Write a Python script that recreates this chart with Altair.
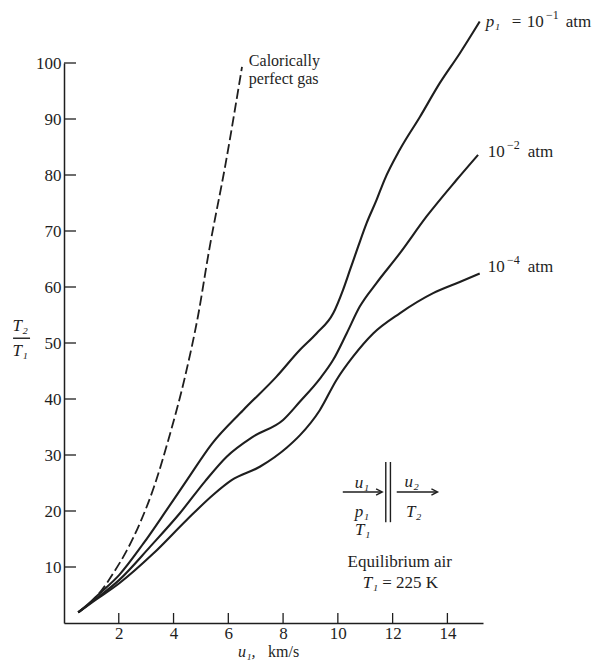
import altair as alt
import pandas as pd

# ---- data ----
cpg_u = [0.52, 1.0, 1.4, 1.8, 2.3, 2.77, 3.3, 3.81, 4.42, 4.9, 5.3, 5.9, 6.5]
cpg_t = [1.9, 3.8, 6.0, 8.9, 13.0, 17.8, 24.5, 32.7, 44.0, 55.0, 66.6, 82.0, 99.3]

p1_u = [0.52, 1.0, 1.31, 2.02, 2.9, 3.75, 4.5, 5.4, 6.54, 7.76, 8.61, 9.22, 9.83,
        10.19, 10.44, 10.74, 11.05, 11.41, 11.7, 12.26, 13.0, 13.72, 14.45, 15.18]
p1_t = [1.9, 3.9, 5.3, 8.6, 14.2, 20.2, 25.6, 32.0, 38.0, 44.0, 48.75, 51.7, 55.3,
        59.5, 63.0, 67.2, 71.4, 75.5, 79.1, 84.5, 90.4, 96.4, 101.7, 107.4]

p2_u = [0.52, 1.0, 2.02, 3.14, 4.23, 5.15, 5.94, 6.91, 8.0, 8.61, 9.34, 9.83, 10.32,
        10.8, 11.41, 12.26, 13.24, 14.33, 15.12]
p2_t = [1.9, 3.7, 7.7, 13.6, 19.6, 25.3, 29.7, 33.3, 36.25, 39.5, 43.6, 47.0, 51.7,
        56.5, 60.7, 66.0, 72.6, 79.1, 83.6]

p4_u = [0.52, 1.0, 2.02, 3.26, 4.48, 5.45, 6.12, 7.15, 8.13, 8.61, 9.34, 9.95, 10.56,
        11.29, 12.26, 13.48, 14.45, 15.18]
p4_t = [1.9, 3.6, 7.1, 12.4, 18.4, 22.9, 25.5, 27.9, 31.3, 33.5, 38.0, 43.4, 47.6,
        51.7, 55.3, 58.9, 60.9, 62.4]

x_ticks = [2, 4, 6, 8, 10, 12, 14]
y_ticks = [10, 20, 30, 40, 50, 60, 70, 80, 90, 100]

FONT = "Liberation Serif"
INK = "#1e1e1e"
FS = 17

xs = alt.Scale(domain=[0, 15.3], nice=False, zero=False)
ys = alt.Scale(domain=[0, 100], nice=False, zero=False)

x_axis = alt.Axis(values=x_ticks, ticks=False, grid=False, title=None,
                  labelFont=FONT, labelFontSize=FS, labelColor=INK, labelPadding=2,
                  domainColor=INK, domainWidth=1.5, labelFlush=False)
y_axis = alt.Axis(values=y_ticks, ticks=False, grid=False, title=None,
                  labelFont=FONT, labelFontSize=FS, labelColor=INK, labelPadding=3,
                  domainColor=INK, domainWidth=1.5, labelFlush=False)


def X(f="u"):
    return alt.X(f"{f}:Q", scale=xs, axis=x_axis)


def Y(f="t"):
    return alt.Y(f"{f}:Q", scale=ys, axis=y_axis)


solid = pd.concat([
    pd.DataFrame({"u": p1_u, "t": p1_t, "s": "p1"}),
    pd.DataFrame({"u": p2_u, "t": p2_t, "s": "p2"}),
    pd.DataFrame({"u": p4_u, "t": p4_t, "s": "p4"}),
])
cpg = pd.DataFrame({"u": cpg_u, "t": cpg_t})

lines = alt.Chart(solid).mark_line(interpolate="monotone", color=INK, strokeWidth=2.1,
                                   clip=False).encode(x=X(), y=Y(), detail="s:N")
dashed = alt.Chart(cpg).mark_line(interpolate="monotone", color=INK, strokeWidth=1.8,
                                  strokeDash=[10, 4], clip=False).encode(x=X(), y=Y())

# inward ticks
ytk = alt.Chart(pd.DataFrame({"v": y_ticks})).mark_rule(color=INK, strokeWidth=1.3).encode(
    y=Y("v"), x=alt.value(0), x2=alt.value(12))
xtk = alt.Chart(pd.DataFrame({"v": x_ticks})).mark_rule(color=INK, strokeWidth=1.3).encode(
    x=X("v"), y=alt.value(560), y2=alt.value(550))

# annotations
cpg_label = pd.DataFrame({
    "x": [6.75, 6.75],
    "y": [99.4, 96.3],
    "txt": ["Calorically", "perfect gas"],
})
roman_left = pd.DataFrame({
    "x": [16.35, 16.90, 18.32, 15.47, 16.93, 15.47, 16.93, 11.62],
    "y": [107.3, 107.3, 107.3, 84.1, 84.1, 63.6, 63.6, 7.1],
    "txt": ["=", "10", "atm", "10", "atm", "10", "atm", "= 225 K"],
})
sup = pd.DataFrame({
    "x": [17.60, 16.18, 16.18],
    "y": [108.5, 85.3, 64.8],
    "txt": ["\u22121", "\u22122", "\u22124"],
})
roman_center = pd.DataFrame({"x": [12.26], "y": [10.9], "txt": ["Equilibrium air"]})
italic_left = pd.DataFrame({
    "x": [15.40, 10.91],
    "y": [107.3, 7.1],
    "txt": ["p₁", "T₁"],
})
italic_center = pd.DataFrame({
    "x": [10.88, 10.88, 10.91, 12.7, 12.77, -1.6, -1.6],
    "y": [25.0, 19.8, 16.6, 25.2, 19.8, 53.1, 48.6],
    "txt": ["u₁", "p₁", "T₁", "u₂", "T₂", "T₂", "T₁"],
})
xtitle_it = pd.DataFrame({"x": [6.35], "y": [-5.2], "txt": ["u₁,"]})
xtitle_rm = pd.DataFrame({"x": [7.45], "y": [-5.2], "txt": ["km/s"]})


def txt(df, align, style, size=FS, baseline="middle"):
    return alt.Chart(df).mark_text(align=align, baseline=baseline, font=FONT, fontSize=size,
                                   fontStyle=style, color=INK, clip=False).encode(
        x=X("x"), y=Y("y"), text="txt:N")


# fraction bar, shock lines and arrows
segs = pd.DataFrame({
    "x": [-1.86, 11.75, 11.92, 10.18, 12.15],
    "x2": [-1.24, 11.75, 11.92, 11.6, 13.62],
    "y": [50.85, 18.0, 18.0, 23.4, 23.4],
    "y2": [50.85, 28.75, 28.75, 23.4, 23.4],
})
seg = alt.Chart(segs).mark_rule(color=INK, strokeWidth=1.4, clip=False).encode(
    x=X("x"), x2="x2:Q", y=Y("y"), y2="y2:Q")
heads = alt.Chart(pd.DataFrame({"x": [11.62, 13.64], "y": [23.4, 23.4]})).mark_point(
    shape="M -1 -0.5 L 0 0 L -1 0.5", filled=False, stroke=INK, strokeWidth=1.4,
    size=150, opacity=1).encode(x=X("x"), y=Y("y"))

chart = alt.layer(
    lines, dashed, ytk, xtk, seg, heads,
    txt(cpg_label, "left", "normal", 16, "alphabetic"),
    txt(roman_left, "left", "normal"), txt(sup, "left", "normal", 12),
    txt(roman_center, "center", "normal"),
    txt(italic_left, "left", "italic"), txt(italic_center, "center", "italic"),
    txt(xtitle_it, "left", "italic", 16), txt(xtitle_rm, "left", "normal", 16),
).properties(
    width=419, height=560,
    padding={"left": 56, "top": 55, "right": 117, "bottom": 38},
    autosize=alt.AutoSizeParams(type="none"),
    background="white",
).configure_view(stroke=None)

chart.save("out.html", embed_options={"renderer": "svg", "actions": False})
